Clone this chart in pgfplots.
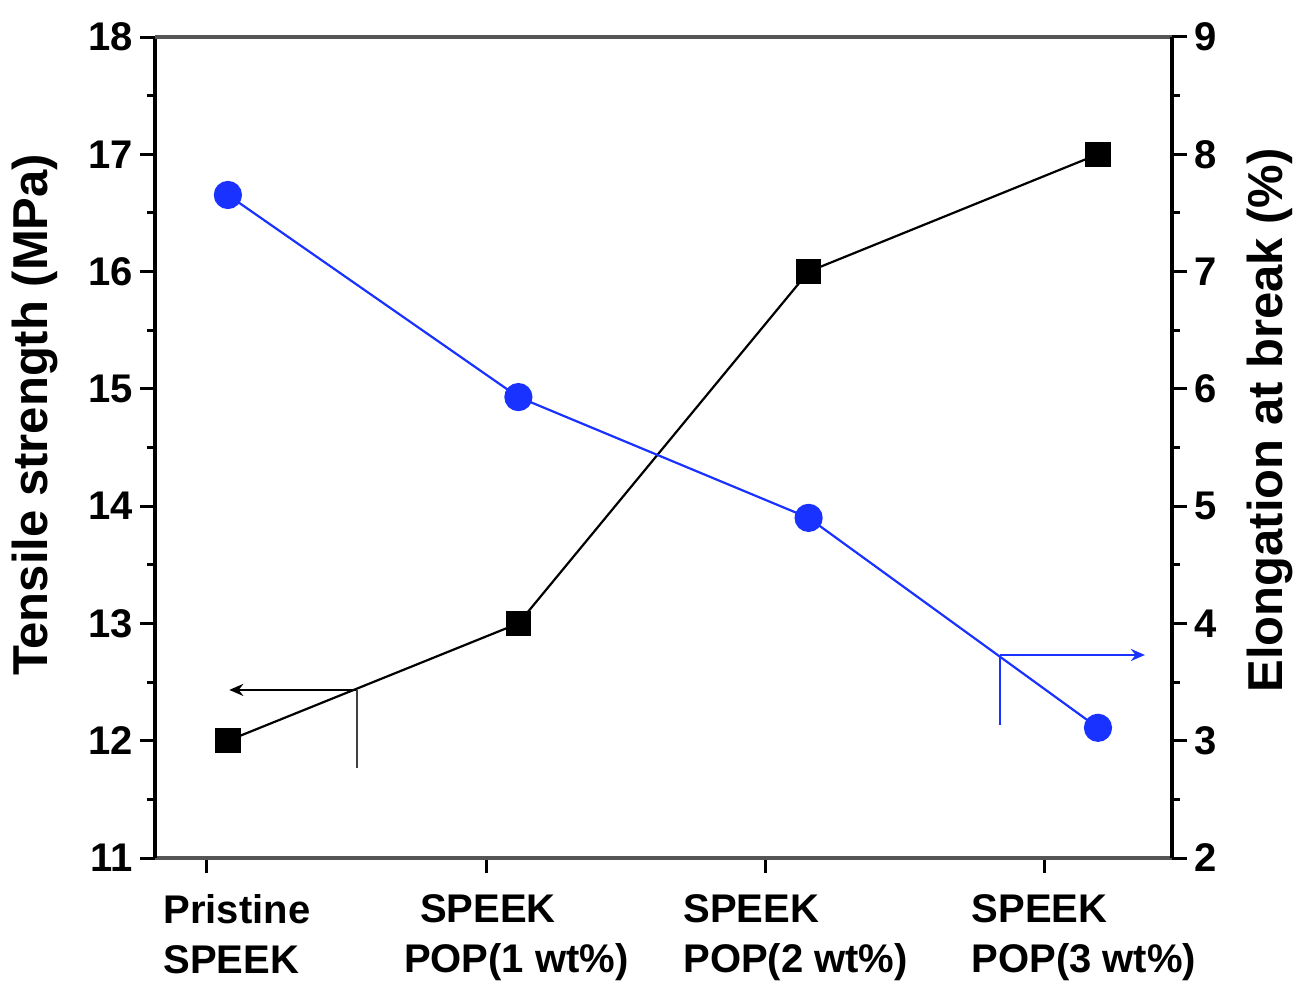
\documentclass[border=0pt]{standalone}
\usepackage{pgfplots}
\pgfplotsset{compat=1.18}
\usepackage{fontspec}
\setmainfont{Liberation Sans}
\usetikzlibrary{arrows.meta}
\definecolor{myblue}{RGB}{25,50,255}
\definecolor{framegray}{RGB}{85,85,85}
\begin{document}
\begin{tikzpicture}
\pgfplotsset{
  common/.style={
    scale only axis, width=508.5pt, height=410.5pt,
    xmin=-0.186, xmax=3.455,
    /pgf/number format/assume math mode=true,
    tick label style={font=\bfseries\fontsize{20}{25}\selectfont},
    label style={font=\bfseries\fontsize{24.5}{29}\selectfont},
    tick align=outside,
    major tick length=7.5pt, minor tick length=4pt,
    tick style={line width=1.5pt, black},
    minor y tick num=1,
    clip=false,
  }
}
\begin{axis}[common,
  ymin=11, ymax=18, ytick={11,12,...,18},
  axis x line*=bottom, axis y line*=left,
  x axis line style={-, draw=framegray, line width=2.2pt},
  y axis line style={-, draw=black, line width=1.6pt},
  xtick={0,1,2,3},
  xticklabels={Pristine\\SPEEK, \hspace*{0.4em}SPEEK\\POP(1 wt\%), SPEEK\\POP(2 wt\%), \hspace*{9pt}SPEEK\\\hspace*{9pt}POP(3 wt\%)},
  xticklabel style={align=left, xshift=15pt, yshift=-7pt},
  xtick pos=bottom, ytick pos=left,
  ylabel={Tensile strength (MPa)},
  ylabel style={at={(axis description cs:-0.118,0.54)}, anchor=center, rotate=0},
]
\coordinate (SW) at (rel axis cs:0,0);
\coordinate (NE) at (rel axis cs:1,1);
\addplot[black, line width=1.1pt, mark=square*, mark size=5.8pt, mark options={solid}]
  coordinates {(0.075,12) (1.115,13) (2.154,16) (3.19,17)};
\draw[black, line width=1.3pt, -{Stealth[length=7pt,width=6pt]}] (axis cs:0.537,12.433) -- (axis cs:0.08,12.433);
\draw[black!75, line width=1.4pt] (axis cs:0.537,12.433) -- (axis cs:0.537,11.768);
\end{axis}
\begin{axis}[common,
  ymin=2, ymax=9, ytick={2,3,...,9},
  axis x line*=top, axis y line*=right,
  x axis line style={-, draw=framegray, line width=2.2pt},
  y axis line style={-, draw=black, line width=1.6pt},
  xtick=\empty,
  ylabel={Elongation at break (\%)},
  ylabel style={at={(axis description cs:1.096,0.533)}, anchor=center, rotate=0},
]
\addplot[myblue, line width=1.1pt, mark=*, mark size=6.5pt, mark options={solid}]
  coordinates {(0.075,7.653) (1.115,5.93) (2.154,4.90) (3.19,3.11)};
\draw[myblue, line width=1.3pt, -{Stealth[length=7pt,width=6pt]}] (axis cs:2.839,3.731) -- (axis cs:3.358,3.731);
\draw[myblue, line width=1.3pt] (axis cs:2.839,3.731) -- (axis cs:2.839,3.134);
\end{axis}
\pgfresetboundingbox
\path ([shift={(-77.5pt,-64pt)}]SW) rectangle ([shift={(64pt,18.5pt)}]NE);
\end{tikzpicture}
\end{document}
